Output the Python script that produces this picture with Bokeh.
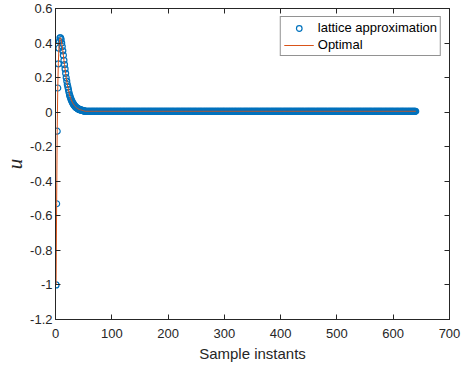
from bokeh.plotting import figure
from bokeh.models import LinearAxis, FixedTicker, CustomJSTickFormatter, Legend, LegendItem, Range1d
from bokeh.embed import file_html
from bokeh.resources import INLINE

# transient part of the control signal u, samples 1..52
u_transient = [-1.00, -0.53, -0.11, 0.14, 0.28, 0.37, 0.41, 0.43, 0.43, 0.42,
               0.40, 0.38, 0.355, 0.33, 0.30, 0.275, 0.25, 0.225, 0.20, 0.18,
               0.16, 0.145, 0.13, 0.115, 0.10, 0.09, 0.08, 0.072, 0.064, 0.057,
               0.051, 0.046, 0.041, 0.037, 0.033, 0.030, 0.027, 0.024, 0.022, 0.020,
               0.018, 0.016, 0.015, 0.014, 0.013, 0.012, 0.011, 0.010, 0.009, 0.008,
               0.007, 0.006]
# steady-state tail (flat)
u_tail_value = 0.005
n_samples = 640

u_lattice = u_transient + [u_tail_value] * (n_samples - len(u_transient))
u_optimal = list(u_lattice)
samples = list(range(1, n_samples + 1))

x_ticks = [0, 100, 200, 300, 400, 500, 600, 700]
y_ticks = [-1.2, -1.0, -0.8, -0.6, -0.4, -0.2, 0.0, 0.2, 0.4, 0.6]

AX = "#262626"
FONT = "Liberation Sans"

p = figure(width=462, height=367, output_backend="svg", toolbar_location=None,
           x_range=Range1d(0, 700), y_range=Range1d(-1.2, 0.6),
           min_border_left=54, min_border_right=13, min_border_top=8, min_border_bottom=48)
p.grid.visible = False
p.background_fill_color = "white"
p.border_fill_color = "white"
p.outline_line_color = AX
p.outline_line_width = 1

fmt = CustomJSTickFormatter(code="""
if (Math.abs(tick) < 1e-9) return '0';
let s = tick.toFixed(1);
if (s.endsWith('.0')) s = s.slice(0, -2);
return s;
""")

for ax in p.xaxis + p.yaxis:
    ax.major_tick_in = 5
    ax.major_tick_out = 0
    ax.minor_tick_line_color = None
    ax.axis_line_color = AX
    ax.major_tick_line_color = AX
    ax.major_label_text_font = FONT
    ax.major_label_text_font_size = "13px"
    ax.major_label_text_color = AX
    ax.formatter = fmt

p.xaxis.ticker = FixedTicker(ticks=x_ticks)
p.yaxis.ticker = FixedTicker(ticks=y_ticks)
p.xaxis.major_label_standoff = 9
p.yaxis.major_label_standoff = 3
p.xaxis.axis_label = "Sample instants"
p.xaxis.axis_label_text_font = FONT
p.xaxis.axis_label_text_font_style = "normal"
p.xaxis.axis_label_text_font_size = "15px"
p.xaxis.axis_label_text_color = AX
p.xaxis.axis_label_standoff = 4
p.yaxis.axis_label = "u"
p.yaxis.axis_label_text_font = "Liberation Serif"
p.yaxis.axis_label_text_font_style = "italic"
p.yaxis.axis_label_text_font_size = "21px"
p.yaxis.axis_label_text_line_height = 0.6
p.yaxis.axis_label_text_color = AX
p.yaxis.axis_label_standoff = 0

for side in ("above", "right"):
    ticks = x_ticks if side == "above" else y_ticks
    extra = LinearAxis(ticker=FixedTicker(ticks=ticks), major_tick_in=5, major_tick_out=0,
                       minor_tick_line_color=None, major_label_text_font_size="1px",
                       major_label_text_color=None, axis_label_standoff=0,
                       axis_line_color=AX, major_tick_line_color=AX, major_label_standoff=0)
    p.add_layout(extra, side)

r1 = p.scatter(samples, u_lattice, marker="circle", size=6, fill_color=None,
               line_color="#0072BD", line_width=1.2)
r2 = p.line(samples, u_optimal, line_color="#D95319", line_width=1)

legend = Legend(items=[LegendItem(label="lattice approximation", renderers=[r1]),
                       LegendItem(label="Optimal", renderers=[r2])],
                location="top_right")
legend.label_text_font = FONT
legend.label_text_font_size = "13px"
legend.label_text_color = "black"
legend.border_line_color = AX
legend.border_line_width = 1
legend.background_fill_color = "white"
legend.glyph_width = 30
legend.glyph_height = 14
legend.label_height = 14
legend.label_standoff = 4
legend.spacing = 2
legend.padding = 3
legend.margin = 8
p.add_layout(legend)

open("out.html", "w").write(file_html(p, INLINE))
